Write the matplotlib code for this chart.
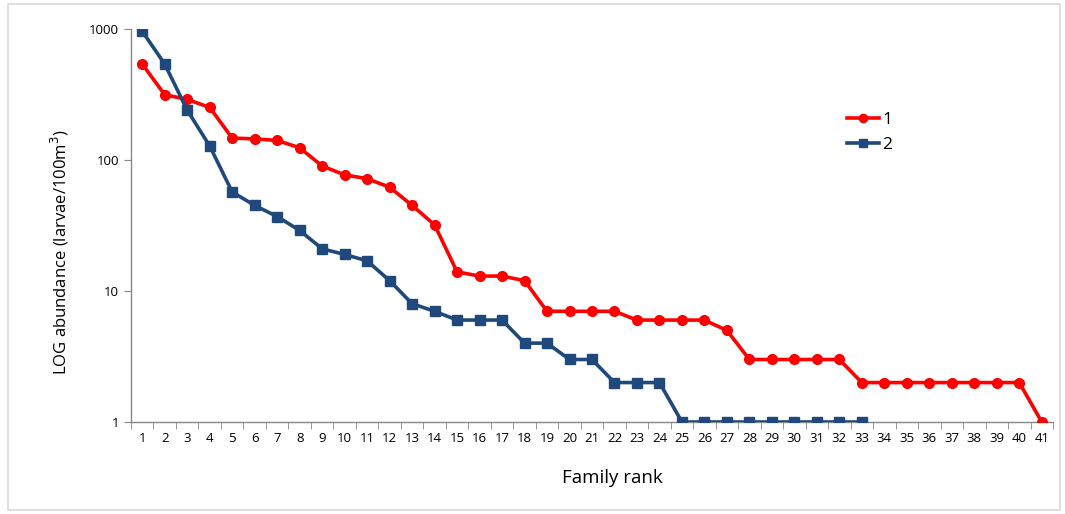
"""Family rank vs log abundance of larvae, two series."""

import matplotlib

matplotlib.use("Agg")
import matplotlib.pyplot as plt  # noqa: E402
from matplotlib.patches import Rectangle  # noqa: E402
from matplotlib.ticker import FixedLocator, NullLocator  # noqa: E402

# --------------------------------------------------------------------------- #
# Data
# --------------------------------------------------------------------------- #
RANKS = list(range(1, 42))
SERIES_1 = [540, 315, 290, 252, 147, 145, 141, 124, 90, 77,
            72, 62, 45, 32, 14, 13, 13, 12, 7, 7,
            7, 7, 6, 6, 6, 6, 5, 3, 3, 3,
            3, 3, 2, 2, 2, 2, 2, 2, 2, 2,
            1]
SERIES_2 = [960, 540, 240, 128, 57, 45, 37, 29, 21, 19,
            17, 12, 8, 7, 6, 6, 6, 4, 4, 3,
            3, 2, 2, 2, 1, 1, 1, 1, 1, 1,
            1, 1, 1]
Y_TICKS = [1, 10, 100, 1000]

RED = "#FF0000"
BLUE = "#1F497D"
AXIS_GRAY = "#868686"

fig = plt.figure(figsize=(10.65, 5.14), dpi=100)
plt.rcParams["font.family"] = ["Open Sans", "DejaVu Sans"]

# light frame around the whole chart area
fig.patches.append(Rectangle((8 / 1065, 4 / 514), 1052 / 1065, 506 / 514,
                             transform=fig.transFigure, fill=False,
                             edgecolor="#D9D9D9", linewidth=1.2))

ax = fig.add_axes([131 / 1065, 1 - 422 / 514, 922 / 1065, 393 / 514])

ax.plot(RANKS[:len(SERIES_1)], SERIES_1, color=RED, lw=2.6, marker="o",
        markersize=7, label="1", zorder=3)
ax.plot(RANKS[:len(SERIES_2)], SERIES_2, color=BLUE, lw=2.6, marker="s",
        markersize=7, label="2", zorder=3)

ax.set_yscale("log")
ax.set_ylim(1, 1000)
ax.set_xlim(0.5, 41.5)
ax.yaxis.set_major_locator(FixedLocator(Y_TICKS))
ax.yaxis.set_minor_locator(NullLocator())
ax.set_yticklabels([str(v) for v in Y_TICKS])

ax.set_xticks(RANKS)
ax.set_xticklabels([str(r) for r in RANKS])
ax.tick_params(axis="x", which="major", length=0, pad=7, labelsize=9.5)
ax.set_xticks([r + 0.5 for r in range(0, 42)], minor=True)
ax.tick_params(axis="x", which="minor", length=5, color=AXIS_GRAY)
ax.tick_params(axis="y", length=5, color=AXIS_GRAY, labelsize=9.5)

for side in ("top", "right"):
    ax.spines[side].set_visible(False)
for side in ("left", "bottom"):
    ax.spines[side].set_color(AXIS_GRAY)
    ax.spines[side].set_linewidth(1.0)

ax.set_xlabel("Family rank", fontsize=13.5)
ax.xaxis.set_label_coords(481 / 922, -56 / 393)
ax.xaxis.label.set_va("center")
ax.set_ylabel("LOG abundance (larvae/100m$^3$)", fontsize=12)
ax.yaxis.set_label_coords(-71 / 922, 170 / 393)
ax.yaxis.label.set_va("center")

ax.legend(loc="upper left", bbox_to_anchor=(0.76, 0.83), frameon=False,
          fontsize=12.5, handlelength=1.8, handletextpad=0.2, labelspacing=0.55,
          markerscale=0.85)

fig.savefig("out.png", dpi=100)
